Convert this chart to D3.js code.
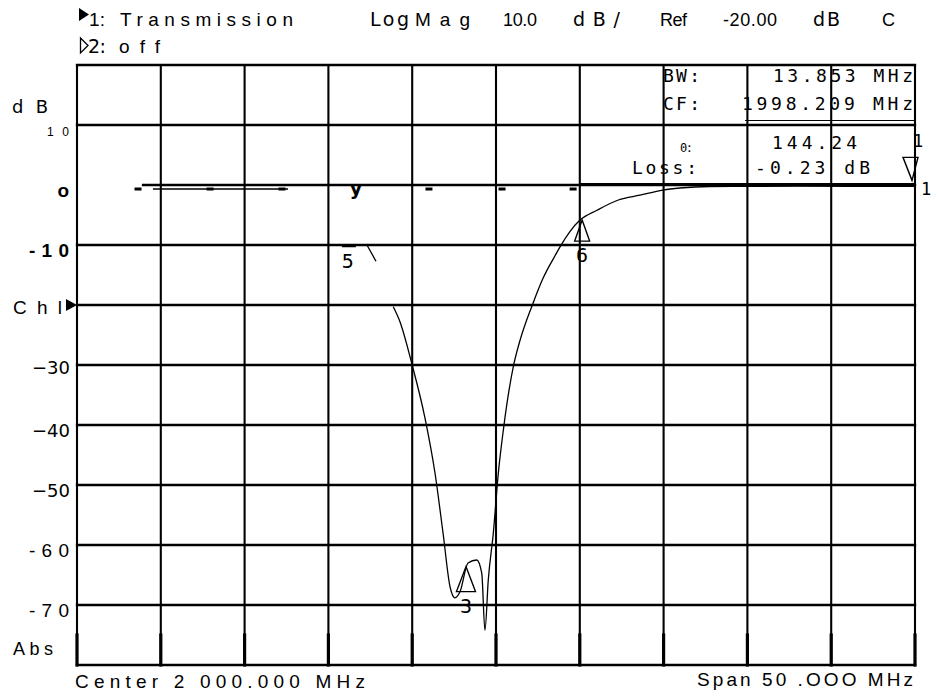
<!DOCTYPE html>
<html>
<head>
<meta charset="utf-8">
<script src="https://cdn.jsdelivr.net/npm/d3@7"></script>
<style>
  html, body { margin: 0; padding: 0; background: #fff; }
  svg { display: block; }
</style>
</head>
<body>
<svg id="chart" width="938" height="700"></svg>
<script>
// ---- Sweep settings ----
const startMHz = 1975;
const stopMHz = 2025;
const topDb = 20;
const bottomDb = -80;

// ---- Graticule ----
const freqDivisions = d3.range(startMHz, stopMHz + 0.01, 5);
const dbDivisions = d3.range(topDb, bottomDb - 0.01, -10);
const zeroLineStartMHz = 1978.94;

// ---- Y tick labels ----
const yTickValues = [10, 0, -10, -20, -30, -40, -50, -60, -70];
const yTickLabels = ["10", "o", "-10", "Chl", "\u221230", "\u221240", "\u221250", "-60", "-70"];

// ---- Transmission trace (MHz, dB); null marks a break in the trace ----
const traceMHz = [
  1979.53, 1987.59, null,
  1992.30, 1992.84, null,
  1993.87, 1994.27, 1994.97, 1995.76, 1996.36, 1996.84, 1997.26, 1997.55,
  1997.85, 1998.33, 1998.85, 1999.15, 1999.34, 1999.54, 1999.84, 2000.14,
  2000.44, 2001.03, 2001.40, 2001.83, 2002.21, 2002.50, 2002.80, 2003.10,
  2003.50, 2003.82, 2004.40, 2005.01, 2006.03, 2007.30, 2008.59, 2009.96,
  2010.98, 2012.77, 2018.00, 2025.00
];
const traceDb = [
  -0.67, -0.67, null,
  -10.0, -12.7, null,
  -20.3, -22.8, -29.7, -38.8, -48.0, -58.0, -67.0, -68.8,
  -67.8, -63.0, -62.5, -64.7, -74.2, -65.8, -58.0, -48.0,
  -40.8, -30.3, -26.2, -22.5, -19.7, -17.6, -15.6, -13.9,
  -11.9, -10.3, -7.8, -5.85, -4.2, -2.5, -1.7, -0.85,
  -0.5, -0.25, -0.2, -0.23
];

// Dash marks riding along the 0 dB row
const dashMHz = [1978.64, 1982.94, 1987.23, 1996.0, 2000.36, 2004.6];
const dashDb = -0.67;

// ---- Markers ----
const markerIds = ["1", "3", "5", "6"];
const markerMHz = [2025.0, 1998.209, 1991.28, 2005.14];
const markerDb = [-0.23, -63.6, -6.0, -5.85];

// ---- Readout ----
const bwText = "13.853 MHz";
const cfText = "1998.209 MHz";
const qText = "144.24";
const lossText = "-0.23 dB";

const svg = d3.select("#chart");
const ink = "#000";

const x = d3.scaleLinear().domain([startMHz, stopMHz]).range([77, 915]);
const y = d3.scaleLinear().domain([bottomDb, topDb]).range([665, 65]);

// helper for fitted text
function label(g, txt, opts) {
  const t = g.append("text")
    .attr("x", opts.x).attr("y", opts.y)
    .attr("font-family", opts.family || "'Liberation Sans', Arial, sans-serif")
    .attr("font-size", opts.size || 19)
    .attr("font-weight", opts.weight || "normal")
    .attr("text-anchor", opts.anchor || "start")
    .attr("fill", ink)
    .text(txt);
  if (opts.width) t.attr("textLength", opts.width).attr("lengthAdjust", "spacing");
  return t;
}

// ---- Grid ----
const grid = svg.append("g").attr("stroke", ink).attr("stroke-linecap", "square");
grid.selectAll("line.h").data(dbDivisions).join("line")
  .attr("class", "h")
  .attr("x1", d => d === 0 ? x(zeroLineStartMHz) : x(startMHz))
  .attr("x2", x(stopMHz))
  .attr("y1", d => y(d)).attr("y2", d => y(d))
  .attr("stroke-width", 2.3);
grid.selectAll("line.v").data(freqDivisions).join("line")
  .attr("class", "v")
  .attr("x1", d => x(d)).attr("x2", d => x(d))
  .attr("y1", y(topDb)).attr("y2", y(bottomDb))
  .attr("stroke-width", 2.1);
// heavier feet on the bottom row
grid.selectAll("line.foot").data(freqDivisions).join("line")
  .attr("class", "foot")
  .attr("x1", d => x(d)).attr("x2", d => x(d))
  .attr("y1", y(-75)).attr("y2", y(bottomDb))
  .attr("stroke-width", 3.2);
// heavy passband reference on the upper side
grid.append("line")
  .attr("x1", x(2005)).attr("x2", x(stopMHz))
  .attr("y1", y(0.2)).attr("y2", y(0.2))
  .attr("stroke-width", 1.6);

// ---- Y axis ----
const yAxis = d3.axisLeft(y)
  .tickValues(yTickValues)
  .tickFormat((d, i) => yTickLabels[i])
  .tickSize(0)
  .tickPadding(8);
const ag = svg.append("g").attr("transform", `translate(${x(startMHz)},0)`).call(yAxis);
ag.select(".domain").remove();
const spacedWidths = { "10": 22, "-10": 40, "Chl": 49, "-60": 40, "-70": 40 };
ag.selectAll(".tick text")
  .attr("fill", ink)
  .attr("font-family", "'Liberation Sans', Arial, sans-serif")
  .attr("font-size", 19)
  .attr("dy", 11)
  .each(function (d, i) {
    const s = d3.select(this);
    const txt = yTickLabels[i];
    if (spacedWidths[txt]) s.attr("textLength", spacedWidths[txt]).attr("lengthAdjust", "spacing");
    if (txt.startsWith("\u2212")) s.attr("font-family", "'DejaVu Sans', sans-serif").attr("font-size", 18).attr("x", -7);
    if (txt === "o" || txt === "-10") s.attr("font-weight", "bold");
    if (txt === "10") s.attr("font-size", 12).attr("dy", 10);
    if (txt === "Chl") s.attr("x", -15).attr("dy", 8);
    if (d === -30) s.attr("dy", 8);
  });
// channel reference arrow at the ref level
svg.append("path")
  .attr("d", `M${x(startMHz) - 11},${y(-20) - 6} L${x(startMHz)},${y(-20)} L${x(startMHz) - 11},${y(-20) + 6} Z`)
  .attr("fill", ink);

const side = svg.append("g");
label(side, "dB", { x: 12, y: 113, width: 36, family: "'DejaVu Sans', sans-serif", size: 18 });
label(side, "Abs", { x: 13, y: 655, width: 40, size: 18 });

// ---- Trace ----
const trace = traceMHz.map((f, i) => ({ f, db: traceDb[i] }));
const line = d3.line()
  .defined(d => d.f !== null && d.db !== null)
  .curve(d3.curveMonotoneX)
  .x(d => x(d.f)).y(d => y(d.db));
svg.append("path")
  .datum(trace)
  .attr("d", line)
  .attr("fill", "none")
  .attr("stroke", ink)
  .attr("stroke-width", 1.3)
  .attr("stroke-linejoin", "round");

// dashes along 0 dB row
svg.selectAll("rect.dash").data(dashMHz).join("rect")
  .attr("class", "dash")
  .attr("x", d => x(d) - 3.5).attr("y", y(dashDb) - 1.5)
  .attr("width", 7).attr("height", 3)
  .attr("fill", ink);
label(svg, "y", { x: x(1991.64), y: 195, anchor: "middle", size: 19, weight: "bold", family: "'DejaVu Sans', sans-serif" });

// ---- Markers ----
const mk = svg.append("g").attr("fill", "none").attr("stroke", ink).attr("stroke-width", 1.4);
const monoFont = "'DejaVu Sans Mono', monospace";
markerIds.forEach((id, i) => {
  const mx = x(markerMHz[i]);
  const my = y(markerDb[i]);
  if (id === "1") {
    const tipY = my - 6;
    mk.append("path").attr("d", `M${mx - 12},${tipY - 23} L${mx + 3},${tipY - 23} L${mx - 3},${tipY} Z`);
    label(svg, "1", { x: mx + 3, y: 147, anchor: "middle", size: 17, family: monoFont });
    label(svg, "1", { x: mx + 11, y: 195, anchor: "middle", size: 17, family: monoFont });
  } else if (id === "5") {
    svg.append("line").attr("x1", mx - 8).attr("x2", mx + 6)
      .attr("y1", y(-10) + 1).attr("y2", y(-10) + 1)
      .attr("stroke", ink).attr("stroke-width", 2.5);
    label(svg, "5", { x: mx - 2, y: 268, anchor: "middle", size: 20, family: monoFont });
  } else {
    const h = id === "3" ? 25 : 21;
    const hw = id === "3" ? 9.5 : 7.5;
    mk.append("path").attr("d", `M${mx},${my} L${mx + hw},${my + h} L${mx - hw},${my + h} Z`);
    label(svg, id, { x: mx, y: my + h + 21, anchor: "middle", size: 20, family: monoFont });
  }
});

// ---- Readout box ----
const ro = svg.append("g");
label(ro, "BW:", { x: 663, y: 82, width: 37, size: 18, family: monoFont });
label(ro, bwText, { x: 773, y: 82, width: 140, size: 18, family: monoFont });
label(ro, "CF:", { x: 663, y: 110, width: 37, size: 18, family: monoFont });
label(ro, cfText, { x: 742, y: 110, width: 171, size: 18, family: monoFont });
ro.append("line").attr("x1", 745).attr("x2", 914).attr("y1", 120.5).attr("y2", 120.5)
  .attr("stroke", ink).attr("stroke-width", 1);
label(ro, "0:", { x: 680, y: 152, width: 13, size: 12, family: monoFont });
label(ro, qText, { x: 772, y: 149, width: 85, size: 18, family: monoFont });
label(ro, "Loss:", { x: 632, y: 174, width: 65, size: 18, family: monoFont });
label(ro, lossText, { x: 755, y: 174, width: 115, size: 18, family: monoFont });

// ---- Header ----
const hd = svg.append("g");
hd.append("path").attr("d", "M79,8 L89,14.5 L79,21 Z").attr("fill", ink);
label(hd, "1:", { x: 89, y: 26, width: 16, size: 19 });
label(hd, "Transmission", { x: 120, y: 26, width: 173, size: 19 });
label(hd, "Log", { x: 370, y: 26, width: 39, size: 19, family: "'DejaVu Sans', sans-serif" });
label(hd, "Mag", { x: 415, y: 26, width: 55, size: 19 });
label(hd, "10.0", { x: 503, y: 26, width: 34, size: 18 });
label(hd, "dB/", { x: 573, y: 26, width: 47, size: 19, family: "'DejaVu Sans', sans-serif" });
label(hd, "Ref", { x: 660, y: 26, width: 27, size: 18 });
label(hd, "-20.00", { x: 723, y: 26, width: 54, size: 18 });
label(hd, "dB", { x: 813, y: 26, width: 27, size: 19, family: "'DejaVu Sans', sans-serif" });
label(hd, "C", { x: 882, y: 26, size: 18 });
hd.append("path").attr("d", "M80.5,38 L88,45.5 L80.5,53 Z").attr("fill", "none").attr("stroke", ink).attr("stroke-width", 1.3);
label(hd, "2:", { x: 88, y: 53, width: 18, size: 19, family: "'DejaVu Sans', sans-serif" });
label(hd, "off", { x: 119, y: 53, width: 41, size: 19 });

// ---- Footer ----
label(svg, "Center 2 000.000 MHz", { x: 75, y: 688, width: 290, size: 19 });
label(svg, "Span 50 .OOO MHz", { x: 697, y: 686, width: 216, size: 19 });
</script>
</body>
</html>
